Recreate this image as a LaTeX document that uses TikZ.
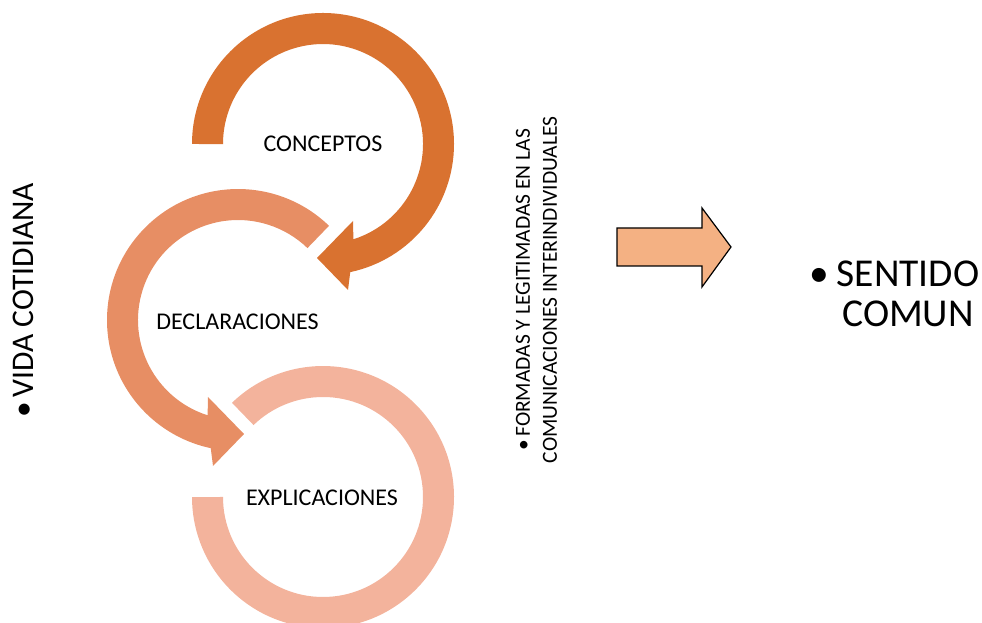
\documentclass[tikz,border=0pt]{standalone}
\usepackage{fontspec}
\setmainfont{Carlito}
\definecolor{arrA}{RGB}{217,114,48}
\definecolor{arrB}{RGB}{231,142,100}
\definecolor{arrC}{RGB}{243,179,156}
\definecolor{blockfill}{RGB}{244,177,131}
\begin{document}
\begin{tikzpicture}[x=1pt,y=1pt,
  lbl/.style={inner sep=0pt, font=\fontsize{24}{29}\selectfont},
  vert/.style={inner sep=0pt, rotate=90}]
\useasboundingbox (0,0) rectangle (982,623);
\begin{scope}
\clip (0,0) rectangle (982,623);
% bottom ring (EXPLICACIONES)
\fill[arrC] (232,220.2) arc[start angle=134,end angle=-180,radius=131pt] -- (223,126)
  arc[start angle=-180,end angle=134,radius=100pt] -- cycle;
% middle arrow (DECLARACIONES)
\fill[arrB] (329,397.2) arc[start angle=46,end angle=258,radius=131pt] -- (213,157) -- (244,189) -- (208,226)
  -- (207.6,207.7) arc[start angle=252.3,end angle=46,radius=100pt] -- cycle;
% top arrow (CONCEPTOS)
\fill[arrA] (192,479) arc[start angle=180,end angle=-78,radius=131pt] -- (348,333) -- (317,365) -- (353,402)
  -- (353.4,383.7) arc[start angle=-72.3,end angle=180,radius=100pt] -- cycle;
\end{scope}
% labels
\node[lbl] (conceptos) at (323,479.5) {CONCEPTOS};
\node[lbl] (declaraciones) at (237.5,301) {DECLARACIONES};
\node[lbl] (explicaciones) at (322,125) {EXPLICACIONES};
\node[vert, anchor=east, font=\fontsize{31.5}{37}\selectfont] (vida) at (23,440) {\textbullet\hspace{5pt}VIDA COTIDIANA};
\node[vert, align=center, font=\fontsize{21.5}{27}\selectfont] (formadas) at (536.5,333)
  {\textbullet\,FORMADAS Y LEGITIMADAS EN LAS\\COMUNICACIONES INTERINDIVIDUALES};
% block arrow
\draw[fill=blockfill, line width=1.2pt, line join=miter]
  (617,395) -- (702,395) -- (702,415) -- (731,376) -- (702,336) -- (702,357) -- (617,357) -- cycle;
\node[inner sep=0pt, align=center, font=\fontsize{39.5}{40}\selectfont] (sentido) at (908,329.5)
  {\llap{\textbullet\hspace{8pt}}SENTIDO\\COMUN};
\end{tikzpicture}
\end{document}
